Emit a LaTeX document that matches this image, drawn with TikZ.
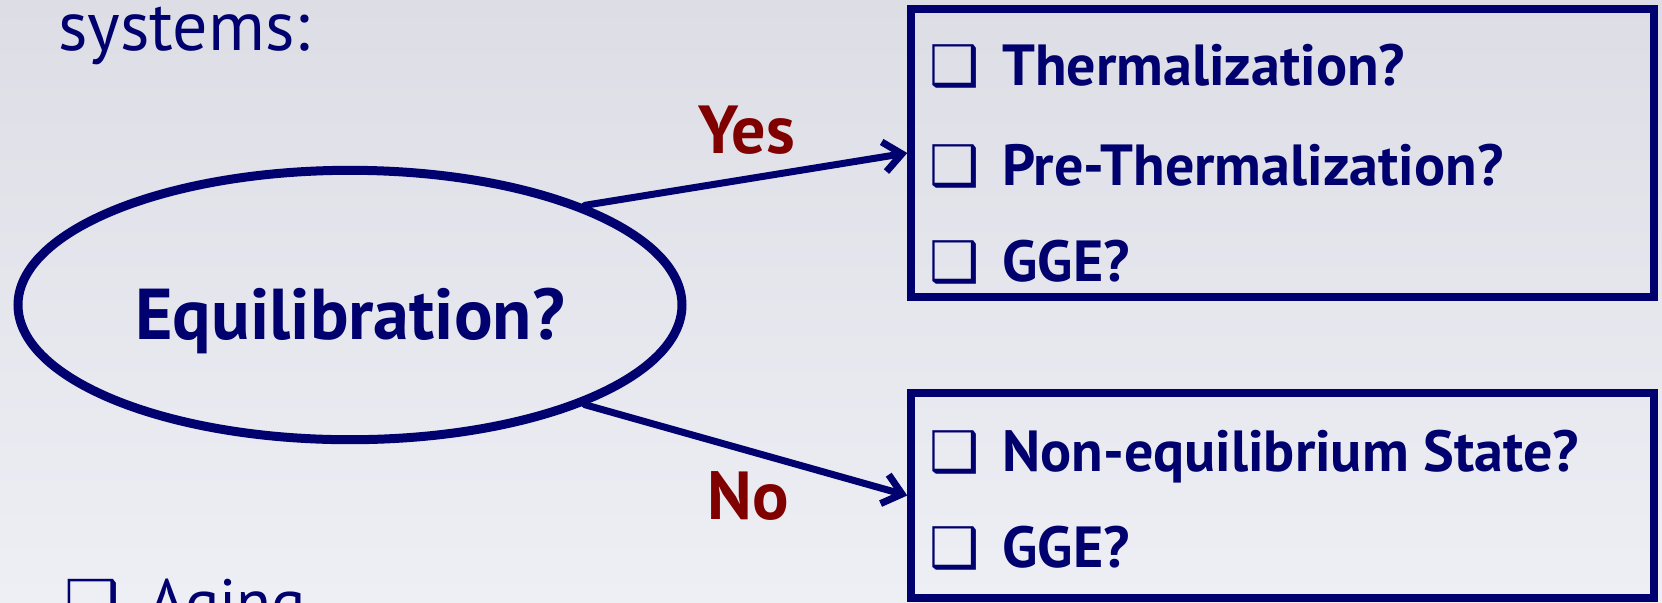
\documentclass[tikz,border=0pt]{standalone}
\usepackage{fontspec}
\setmainfont{PT Sans}
\newfontfamily\dejavu{DejaVu Sans}
\usetikzlibrary{shapes.geometric,arrows.meta}
\definecolor{navy}{RGB}{0,0,110}
\definecolor{darkred}{RGB}{128,0,0}
\definecolor{bgtop}{RGB}{221,221,229}
\definecolor{bgmid}{RGB}{241,241,247}
\definecolor{bgbot}{RGB}{238,238,245}
\newcommand{\chkbox}{\makebox[34.5pt][l]{\hspace{-2pt}\dejavu\fontsize{28}{30}\selectfont ❑}}
\newcommand{\bigchkbox}{\makebox[40pt][l]{\hspace{-2pt}\dejavu\fontsize{31}{34}\selectfont ❑}}
\begin{document}
\begin{tikzpicture}[x=0.5pt,y=-0.5pt,
  bigtxt/.style={font=\fontsize{36}{40}\selectfont\bfseries, text=navy, anchor=base, inner sep=0pt},
  itemtxt/.style={font=\fontsize{29}{34}\selectfont\bfseries, text=navy, anchor=base west, inner sep=0pt},
  answer/.style={font=\fontsize{34}{40}\selectfont\bfseries, text=darkred},
  plaintxt/.style={font=\fontsize{35}{40}\selectfont, text=navy, anchor=base west, inner sep=0pt},
  frame/.style={draw=navy, line width=3.75pt, rectangle, inner sep=0pt},
  conn/.style={draw=navy, line width=3.5pt, line cap=round, -{Straight Barb[length=9pt,width=15pt,line width=3.5pt]}}
]
\useasboundingbox (0,0) rectangle (1662,602);
\shade[top color=bgtop, middle color=bgmid, bottom color=bgbot] (0,0) rectangle (1662,602);

\node[plaintxt] (sys) at (58,50) {systems:};
\node[plaintxt, font=\fontsize{32}{36}\selectfont] (aging) at (68,624) {\bigchkbox Aging};

\node[ellipse, draw=navy, line width=4.5pt, minimum width=332pt, minimum height=134.7pt, inner sep=0pt] (eq) at (350,305) {};
\node[bigtxt] (eqtext) at (350,339) {Equilibration?};

\node[frame, minimum width=371.5pt, minimum height=144pt] (top) at (1282.5,153) {};
\node[frame, minimum width=371.5pt, minimum height=102.5pt] (bot) at (1282.5,495.5) {};

\node[itemtxt] (t1) at (933,85) {\chkbox Thermalization?};
\node[itemtxt] (t2) at (933,185) {\chkbox Pre-Thermalization?};
\node[itemtxt] (t3) at (933,281) {\chkbox GGE?};
\node[itemtxt] (b1) at (933,471) {\chkbox Non-equilibrium State?};
\node[itemtxt] (b2) at (933,567) {\chkbox GGE?};

\node[answer] (yes) at (747,130) {Yes};
\node[answer] (no) at (748,496) {No};

\draw[conn] (eq.23) -- (top.west);
\draw[conn] (eq.-23) -- (bot.west);
\end{tikzpicture}
\end{document}
